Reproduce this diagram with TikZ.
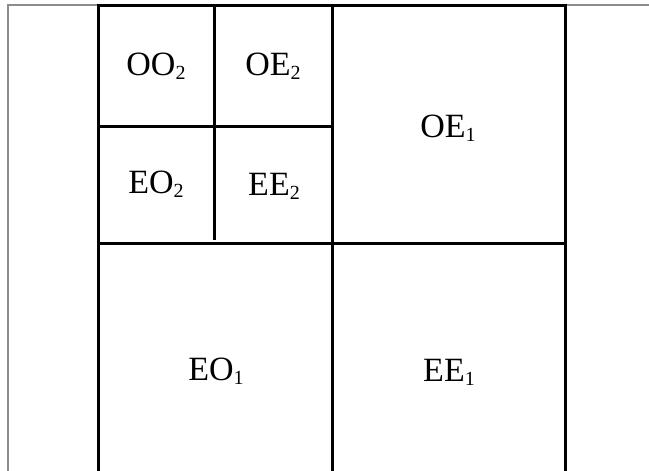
\documentclass[tikz,border=0pt]{standalone}
\usepackage{fontspec}
\setmainfont{Liberation Serif}
\usepackage{tikz}
\definecolor{frameGray}{RGB}{140, 140, 140}
\newcommand{\idx}[1]{\raisebox{-4pt}{\fontsize{20}{22}\selectfont #1}}

\begin{document}
\begin{tikzpicture}[x=1pt, y=-1pt,
    cell/.style={font=\fontsize{34}{38}\selectfont, inner sep=0pt}]
        \useasboundingbox (0,0) rectangle (649,471);
        % page frame (top and left edge only)
        \draw[frameGray, line width=1.5pt] (8,471) -- (8,5) -- (649,5);
        % outer square, cut at the bottom
        \draw[line width=3pt] (98,471) -- (98,5) -- (565,5) -- (565,471);
        % first level split
        \draw[line width=3pt] (332,5) -- (332,471);
        \draw[line width=3pt] (98,243) -- (565,243);
        % second level split of the top left quarter
        \draw[line width=3pt] (214,5) -- (214,240);
        \draw[line width=3pt] (98,126) -- (332,126);
        % labels
        \node[cell] (oo2) at (156,66) {OO\idx{2}};
        \node[cell] (oe2) at (273,66) {OE\idx{2}};
        \node[cell] (eo2) at (156,184) {EO\idx{2}};
        \node[cell] (ee2) at (274,186) {EE\idx{2}};
        \node[cell] (oe1) at (448,128) {OE\idx{1}};
        \node[cell] (eo1) at (216,371) {EO\idx{1}};
        \node[cell] (ee1) at (449,372) {EE\idx{1}};
      \end{tikzpicture}
\end{document}
